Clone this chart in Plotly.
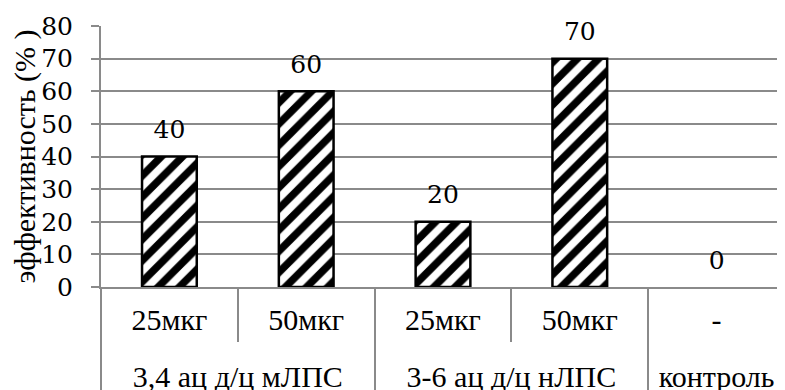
import plotly.graph_objects as go

groups = ["3,4 ац д/ц мЛПС", "3,4 ац д/ц мЛПС", "3-6 ац д/ц нЛПС", "3-6 ац д/ц нЛПС", "контроль"]
subs = ["25мкг", "50мкг", "25мкг", "50мкг", "-"]
values = [40, 60, 20, 70, 0]
labels = [str(v) for v in values]

FONT = "'Liberation Serif', 'Times New Roman', Times, serif"
NUMFONT = "'DejaVu Serif', serif"
GRAY = "#8a8a8a"
FS = 30
NS = 25


def big(s):
    return "<span style='font-size:%dpx'>%s</span>" % (FS, s)


x_groups = ["<br>" + big(g) for g in groups]
x_subs = [big(s) for s in subs]

fig = go.Figure()
fig.add_bar(
    x=[x_groups, x_subs], y=values, width=0.4,
    marker=dict(
        color="white",
        pattern=dict(shape="/", fgcolor="black", bgcolor="white", fgopacity=1, size=15, solidity=0.5),
        line=dict(color="black", width=[2.5, 2.5, 2.5, 2.5, 0]),
    ),
    hoverinfo="skip",
)
fig.add_scatter(
    x=[x_groups, x_subs], y=values, mode="markers+text", text=labels,
    textposition="top center",
    marker=dict(size=18, color="rgba(0,0,0,0)"),
    textfont=dict(size=NS, color="black", family=NUMFONT),
    cliponaxis=False, hoverinfo="skip",
)

fig.update_layout(
    width=777, height=382,
    margin=dict(l=93, r=0, t=18, b=103),
    paper_bgcolor="white", plot_bgcolor="white",
    showlegend=False,
    font=dict(family=FONT, size=FS, color="black"),
    bargap=0.6,
)
fig.update_xaxes(
    type="multicategory", automargin=False,
    showline=True, linecolor=GRAY, linewidth=2,
    ticks="outside", ticklen=53, tickcolor=GRAY, tickwidth=2,
    tickson="boundaries",
    showdividers=True, dividercolor=GRAY, dividerwidth=2,
    showgrid=False,
    ticklabelstandoff=11,
    tickfont=dict(size=25, family=FONT, color="black"),
)
fig.update_yaxes(
    automargin=False,
    range=[0, 80], dtick=10, tick0=0,
    showgrid=True, gridcolor=GRAY, gridwidth=1.5,
    showline=True, linecolor=GRAY, linewidth=2,
    ticks="outside", ticklen=8, tickcolor=GRAY, tickwidth=2,
    ticklabelstandoff=13,
    zeroline=False,
    tickfont=dict(size=NS, family=NUMFONT, color="black"),
    title=dict(text="эффективность (% )", font=dict(size=FS, family=FONT, color="black"), standoff=12),
)

fig.write_html("out.html")
